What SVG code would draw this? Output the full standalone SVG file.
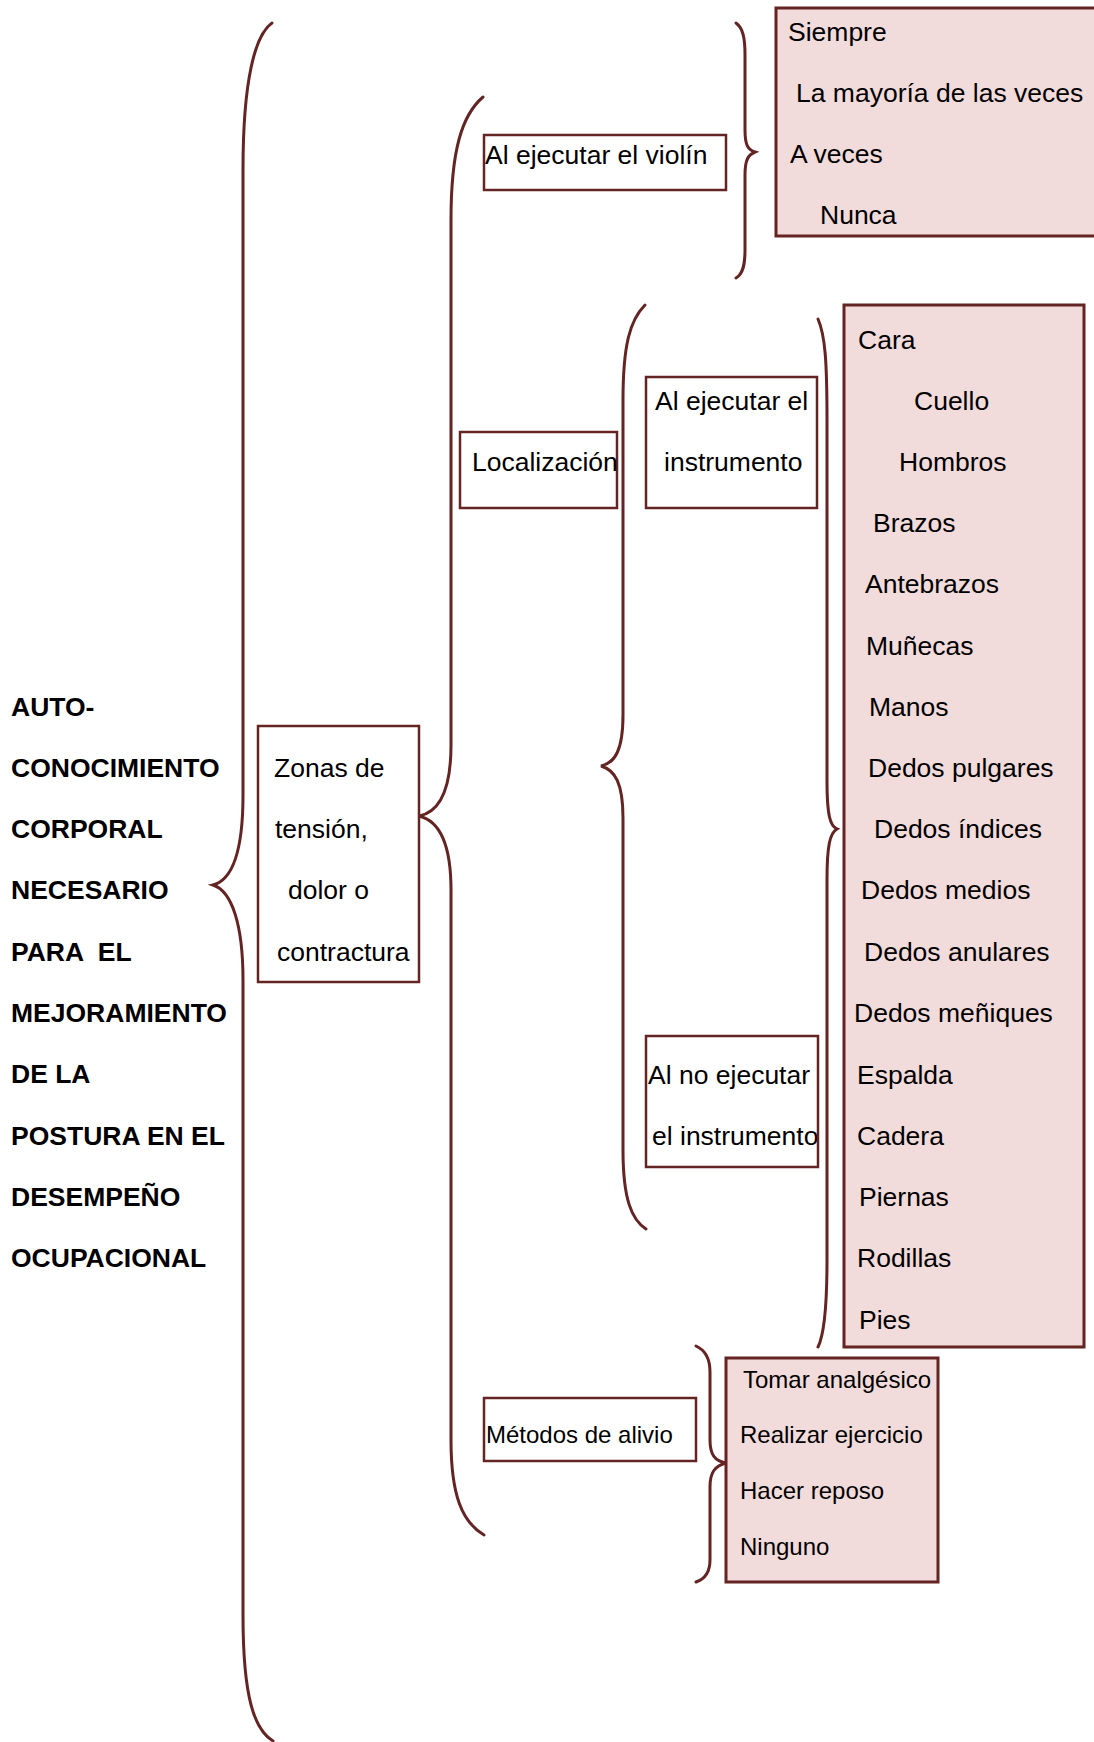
<svg xmlns="http://www.w3.org/2000/svg" width="1094" height="1742" viewBox="0 0 1094 1742">
<style>
.t{font-family:"Liberation Sans",Arial,sans-serif;font-size:26.5px;fill:#000}
.s{font-size:24px}
.b{font-weight:bold;font-size:26.5px}
.wb{fill:#fff;stroke:#632423;stroke-width:2.5}
.pb{fill:#f2dbdb;stroke:#632423;stroke-width:3}
.br{fill:none;stroke:#632423;stroke-width:3;stroke-linecap:round}
</style>
<rect width="1094" height="1742" fill="#fff"/>
<g id="connectors">
<path class="br" d="M272,23 C255,35 243,80 243,170 L243,795 C243,852 232,880 213,885 C232,891 243,925 243,980 L243,1615 C243,1700 255,1730 273,1741"/>
<path class="br" d="M483,97 C462,115 451,150 451,220 L451,745 C451,790 440,812 419,816 C440,821 451,845 451,890 L451,1440 C451,1495 462,1522 484,1535"/>
<path class="br" d="M645,305 C630,320 623,345 623,400 L623,715 C623,750 615,763 601,766 C615,770 623,783 623,818 L623,1150 C623,1200 632,1220 646,1229"/>
<path class="br" d="M818,319 C825,335 827,360 827,420 L827,780 C827,815 830,826 837,829 C830,833 827,845 827,880 L827,1260 C827,1310 824,1335 818,1347"/>
<path class="br" d="M736,23 C743,28 745,38 745,55 L745,130 C745,145 748,150 755,152 C748,155 745,160 745,175 L745,250 C745,265 743,274 736,278"/>
<path class="br" d="M696,1346 C705,1350 710,1358 710,1372 L710,1440 C710,1455 715,1461 726,1463 C715,1466 710,1472 710,1487 L710,1560 C710,1572 705,1579 696,1582"/>
</g>
<g id="title" class="t b">
<text x="11" y="716">AUTO-</text>
<text x="11" y="777">CONOCIMIENTO</text>
<text x="11" y="838">CORPORAL</text>
<text x="11" y="899">NECESARIO</text>
<text x="11" y="961" xml:space="preserve">PARA  EL</text>
<text x="11" y="1022">MEJORAMIENTO</text>
<text x="11" y="1083">DE LA</text>
<text x="11" y="1145">POSTURA EN EL</text>
<text x="11" y="1206">DESEMPEÑO</text>
<text x="11" y="1267">OCUPACIONAL</text>
</g>
<g id="zonas">
<rect class="wb" x="258" y="726" width="161" height="256"/>
<text class="t" x="274" y="777">Zonas de</text>
<text class="t" x="275" y="838">tensión,</text>
<text class="t" x="288" y="899">dolor o</text>
<text class="t" x="277" y="961">contractura</text>
</g>
<g id="violin">
<rect class="wb" x="484" y="135" width="242" height="55"/>
<text class="t" x="485" y="164">Al ejecutar el violín</text>
</g>
<g id="frecuencia">
<rect class="pb" x="776" y="8" width="330" height="228"/>
<text class="t" x="788" y="41">Siempre</text>
<text class="t" x="796" y="102">La mayoría de las veces</text>
<text class="t" x="790" y="163">A veces</text>
<text class="t" x="820" y="224">Nunca</text>
</g>
<g id="localizacion">
<rect class="wb" x="460" y="432" width="157" height="76"/>
<text class="t" x="472" y="471">Localización</text>
</g>
<g id="ejecutar">
<rect class="wb" x="646" y="377" width="171" height="131"/>
<text class="t" x="655" y="410">Al ejecutar el</text>
<text class="t" x="664" y="471">instrumento</text>
</g>
<g id="no-ejecutar">
<text class="t" x="648" y="1084">Al no ejecutar</text>
<text class="t" x="652" y="1145">el instrumento</text>
<rect class="wb" x="646" y="1036" width="172" height="131" style="fill:none"/>
</g>
<g id="partes">
<rect class="pb" x="844" y="305" width="240" height="1042"/>
<text class="t" x="858" y="349">Cara</text>
<text class="t" x="914" y="410">Cuello</text>
<text class="t" x="899" y="471">Hombros</text>
<text class="t" x="873" y="532">Brazos</text>
<text class="t" x="865" y="593">Antebrazos</text>
<text class="t" x="866" y="655">Muñecas</text>
<text class="t" x="869" y="716">Manos</text>
<text class="t" x="868" y="777">Dedos pulgares</text>
<text class="t" x="874" y="838">Dedos índices</text>
<text class="t" x="861" y="899">Dedos medios</text>
<text class="t" x="864" y="961">Dedos anulares</text>
<text class="t" x="854" y="1022">Dedos meñiques</text>
<text class="t" x="857" y="1084">Espalda</text>
<text class="t" x="857" y="1145">Cadera</text>
<text class="t" x="859" y="1206">Piernas</text>
<text class="t" x="857" y="1267">Rodillas</text>
<text class="t" x="859" y="1329">Pies</text>
</g>
<g id="metodos">
<rect class="wb" x="484" y="1398" width="212" height="63"/>
<text class="t s" x="486" y="1443">Métodos de alivio</text>
</g>
<g id="alivio">
<rect class="pb" x="726" y="1358" width="212" height="224"/>
<text class="t s" x="743" y="1388">Tomar analgésico</text>
<text class="t s" x="740" y="1443">Realizar ejercicio</text>
<text class="t s" x="740" y="1499">Hacer reposo</text>
<text class="t s" x="740" y="1555">Ninguno</text>
</g>
</svg>
